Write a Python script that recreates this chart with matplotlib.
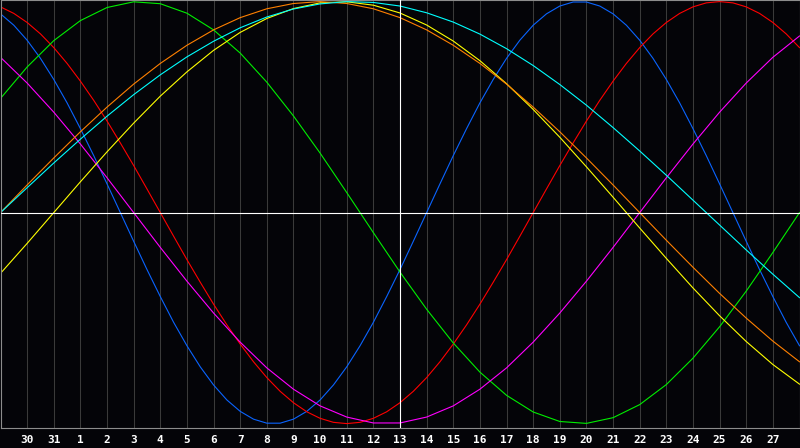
import matplotlib
matplotlib.use('Agg')
import matplotlib.pyplot as plt
import numpy as np

# day labels under the grid lines (grid line 1..29)
day_labels = ['30', '31', '1', '2', '3', '4', '5', '6', '7', '8', '9', '10',
              '11', '12', '13', '14', '15', '16', '17', '18', '19', '20',
              '21', '22', '23', '24', '25', '26', '27']
today = 15  # grid index of "13"

half_days = np.arange(0, 30.5, 0.5)
days = np.arange(0, 31)

# physical (23 d) - blue, read every half day
physical = [0.942, 0.888, 0.817, 0.731, 0.631, 0.520, 0.398, 0.270, 0.136, 0.0,
            -0.136, -0.270, -0.398, -0.520, -0.631, -0.731, -0.817, -0.888, -0.942, -0.979,
            -0.998, -0.998, -0.979, -0.942, -0.888, -0.817, -0.731, -0.631, -0.520, -0.398,
            -0.270, -0.136, 0.0, 0.136, 0.270, 0.398, 0.520, 0.631, 0.731, 0.817,
            0.888, 0.942, 0.979, 0.998, 0.998, 0.979, 0.942, 0.888, 0.817, 0.731,
            0.631, 0.520, 0.398, 0.270, 0.136, 0.0, -0.136, -0.270, -0.398, -0.520,
            -0.631]
# emotional (28 d) - red, read every half day
emotional = [0.975, 0.944, 0.901, 0.847, 0.782, 0.707, 0.623, 0.532, 0.434, 0.330,
             0.223, 0.112, 0.0, -0.112, -0.223, -0.330, -0.434, -0.532, -0.623, -0.707,
             -0.782, -0.847, -0.901, -0.944, -0.975, -0.994, -1.0, -0.994, -0.975, -0.944,
             -0.901, -0.847, -0.782, -0.707, -0.623, -0.532, -0.434, -0.330, -0.223, -0.112,
             0.0, 0.112, 0.223, 0.330, 0.434, 0.532, 0.623, 0.707, 0.782, 0.847,
             0.901, 0.944, 0.975, 0.994, 1.0, 0.994, 0.975, 0.944, 0.901, 0.847,
             0.782]
# the slower ones, read once per day
intellectual = [0.541, 0.690, 0.815, 0.910, 0.972, 0.999, 0.990, 0.945, 0.866, 0.756,
                0.618, 0.458, 0.282, 0.095, -0.095, -0.282, -0.458, -0.618, -0.756, -0.866,
                -0.945, -0.990, -0.999, -0.972, -0.910, -0.815, -0.690, -0.541, -0.372, -0.189,
                0.0]
intuitive = [0.736, 0.614, 0.476, 0.325, 0.165, 0.0, -0.165, -0.325, -0.476, -0.614,
             -0.736, -0.837, -0.916, -0.969, -0.997, -0.997, -0.969, -0.916, -0.837, -0.736,
             -0.614, -0.476, -0.325, -0.165, 0.0, 0.165, 0.325, 0.476, 0.614, 0.736,
             0.837]
aesthetic = [-0.288, -0.146, 0.0, 0.146, 0.288, 0.424, 0.552, 0.667, 0.769, 0.854,
             0.920, 0.967, 0.994, 0.999, 0.983, 0.946, 0.889, 0.813, 0.720, 0.611,
             0.489, 0.357, 0.217, 0.073, -0.073, -0.217, -0.357, -0.489, -0.611, -0.720,
             -0.813]
awareness = [0.0, 0.131, 0.259, 0.383, 0.5, 0.609, 0.707, 0.793, 0.866, 0.924,
             0.966, 0.991, 1.0, 0.991, 0.966, 0.924, 0.866, 0.793, 0.707, 0.609,
             0.5, 0.383, 0.259, 0.131, 0.0, -0.131, -0.259, -0.383, -0.5, -0.609,
             -0.707]
spiritual = [0.0, 0.118, 0.235, 0.348, 0.457, 0.559, 0.653, 0.738, 0.812, 0.876,
             0.927, 0.965, 0.989, 1.0, 0.996, 0.979, 0.947, 0.903, 0.846, 0.777,
             0.697, 0.607, 0.509, 0.403, 0.292, 0.177, 0.059, -0.059, -0.177, -0.292,
             -0.403]

bg = '#040408'
fig = plt.figure(figsize=(8, 4.48), dpi=100, facecolor=bg)
ax = fig.add_axes([0.5/800, 20.5/448, 799/800, 427/448], facecolor=bg)

for d in range(1, 30):
    if d != today:
        ax.axvline(d, color='#3a3a3a', lw=0.75, zorder=1)

lw = 0.8
curves = [
    (half_days, physical, '#0a64ff'),
    (half_days, emotional, '#ff0000'),
    (days, intellectual, '#00ee00'),
    (days, intuitive, '#ff00ff'),
    (days, aesthetic, '#ffff00'),
    (days, awareness, '#ff8000'),
    (days, spiritual, '#00ffff'),
]
for x, y, c in curves:
    ax.plot(x, y, color=c, lw=lw, zorder=2)

ax.axvline(today, color='white', lw=0.8, zorder=3)
ax.axhline(0, color='white', lw=0.8, zorder=3)

ax.set_xlim(0, 30)
ax.set_ylim(-1.0185, 1.0052)
ax.set_xticks(range(1, 30))
ax.set_xticklabels(day_labels, color='white', fontweight='bold',
                   family='DejaVu Sans Mono', fontsize=8)
ax.tick_params(axis='x', length=0, pad=5.5)
ax.set_yticks([])
for s in ax.spines.values():
    s.set_color('#8c8c8c')
    s.set_linewidth(0.8)

fig.savefig('out.png', dpi=100, facecolor=bg)
